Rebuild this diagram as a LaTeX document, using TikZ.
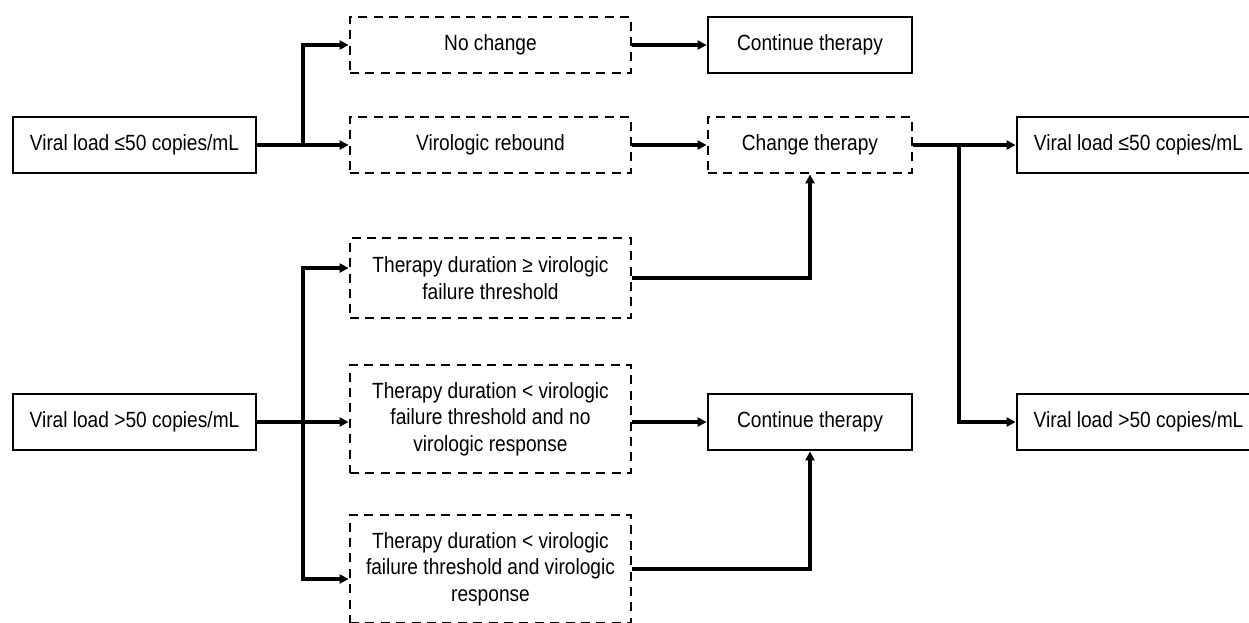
\documentclass[tikz,border=0pt]{standalone}
\usepackage{fontspec}
\setmainfont{Liberation Sans}[FakeStretch=0.87]
\usetikzlibrary{arrows.meta}

\begin{document}
\begin{tikzpicture}[x=0.5pt, y=0.5pt,
            font=\fontsize{11}{13.25}\selectfont,
            solidbox/.style={rectangle, draw, line width=1.4pt, align=center, inner sep=0pt, minimum height=28pt},
            dashbox/.style={rectangle, draw, line width=1.4pt, dash pattern=on 4.5pt off 3.2pt, align=center, inner sep=0pt, minimum width=140.5pt},
            link/.style={line width=1.6pt},
            arr/.style={link, -{Triangle[length=4.5pt,width=4.5pt]}}]
            \useasboundingbox (0,0) rectangle (1249,-622);

            % starting viral load
            \node[solidbox, minimum width=121.5pt] (vlLowA) at (134.5,-145) {Viral load ≤50 copies/mL};
            \node[solidbox, minimum width=121.5pt] (vlHighA) at (134.5,-422) {Viral load >50 copies/mL};

            % outcomes
            \node[dashbox, minimum height=28pt] (noChange) at (490.5,-45) {No change};
            \node[dashbox, minimum height=28pt] (rebound) at (490.5,-145) {Virologic rebound};
            \node[dashbox, minimum height=40pt] (durGe) at (490.5,-278) {Therapy duration ≥ virologic\\failure threshold};
            \node[dashbox, minimum height=54pt] (durLtNo) at (490.5,-419) {Therapy duration < virologic\\failure threshold and no\\virologic response};
            \node[dashbox, minimum height=54pt] (durLtYes) at (490.5,-569) {Therapy duration < virologic\\failure threshold and virologic\\response};

            % decisions
            \node[solidbox, minimum width=102pt] (contA) at (810,-45) {Continue therapy};
            \node[dashbox, minimum width=102pt, minimum height=28pt] (changeT) at (810,-145) {Change therapy};
            \node[solidbox, minimum width=102pt] (contB) at (810,-422) {Continue therapy};

            % new viral load
            \node[solidbox, minimum width=121.5pt] (vlLowB) at (1138.5,-145) {Viral load ≤50 copies/mL};
            \node[solidbox, minimum width=121.5pt] (vlHighB) at (1138.5,-422) {Viral load >50 copies/mL};

            \coordinate (jA) at (303,-145);
            \coordinate (jC) at (303,-422);
            \coordinate (jB) at (959,-145);

            \draw[link] (vlLowA) -- (jA);
            \draw[arr] (jA) |- (noChange.west);
            \draw[arr] (jA) -- (rebound.west);
            \draw[arr] (noChange) -- (contA);
            \draw[arr] (rebound) -- (changeT);
            \draw[arr] (durGe.east) -| (changeT.south);

            \draw[link] (changeT) -- (jB);
            \draw[arr] (jB) -- (vlLowB.west);
            \draw[arr] (jB) |- (vlHighB.west);

            \draw[link] (vlHighA) -- (jC);
            \draw[arr] (jC) |- ([yshift=5pt]durGe.west);
            \draw[arr] (jC) -- (jC -| durLtNo.west);
            \draw[arr] (jC) |- ([yshift=-5pt]durLtYes.west);
            \draw[arr] (durLtNo.east |- contB.west) -- (contB.west);
            \draw[arr] (durLtYes.east) -| (contB.south);

        \end{tikzpicture}
\end{document}
